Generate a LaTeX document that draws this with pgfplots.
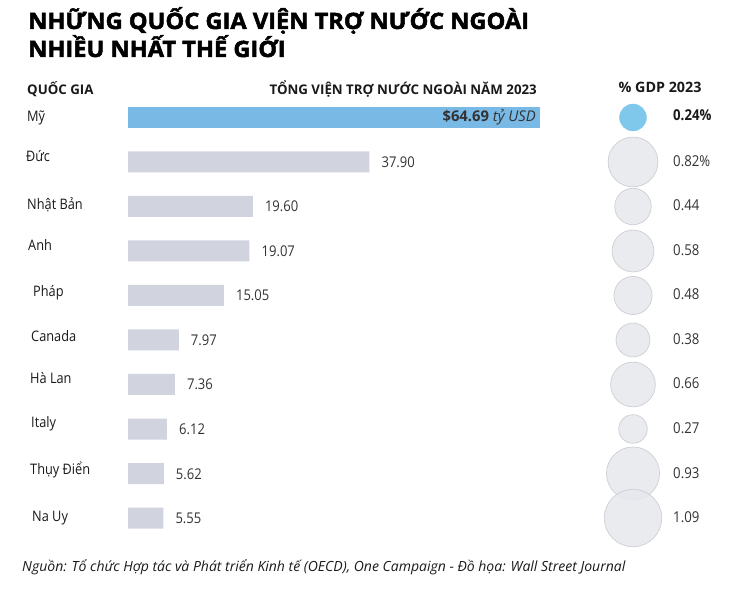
\documentclass[border=0pt]{standalone}
\usepackage{pgfplots}
\pgfplotsset{compat=1.18}
\usepackage{pgfplotstable}
\usepackage{fontspec}
\setmainfont{Open Sans}[FakeStretch=0.88]
\newfontfamily\widefont{Open Sans}
\newfontfamily\titlefont{Open Sans}[FakeStretch=1.05, BoldFeatures={FakeBold=2.2}]
\definecolor{usblue}{HTML}{78B9E5}
\definecolor{usbubble}{HTML}{7FC8EC}
\definecolor{graybar}{HTML}{D1D4DF}
\definecolor{bubfill}{HTML}{E6E8ED}
\definecolor{bubedge}{HTML}{CDCFD5}
\definecolor{txt}{HTML}{1A1A1A}
\definecolor{valtxt}{HTML}{333333}

\pgfplotstableread{
row val lab
1 37.90 37.90
2 19.60 19.60
3 19.07 19.07
4 15.05 15.05
5 7.97 7.97
6 7.36 7.36
7 6.12 6.12
8 5.62 5.62
9 5.55 5.55
}\aidtable
\pgfplotstableread{
row val
0 64.69
}\ustable
\pgfplotstableread{
row gdp lab
1 0.82 0.82\%
2 0.44 0.44
3 0.58 0.58
4 0.48 0.48
5 0.38 0.38
6 0.66 0.66
7 0.27 0.27
8 0.93 0.93
9 1.09 1.09
}\gdptable
\pgfplotstableread{
row gdp lab
0 0.24 0.24\%
}\usgdp

\newcommand{\PX}[2]{(#1pt,{(589-#2)*1pt})}
\begin{document}
\begin{tikzpicture}
\fill[white] (0pt,0pt) rectangle (734pt,589pt);
\useasboundingbox (0pt,0pt) rectangle (734pt,589pt);
% title
\node[anchor=base west, inner sep=0, text=black] at \PX{28}{29} {\titlefont\bfseries\fontsize{22.5}{26}\selectfont NHỮNG QUỐC GIA VIỆN TRỢ NƯỚC NGOÀI};
\node[anchor=base west, inner sep=0, text=black] at \PX{28}{57} {\titlefont\bfseries\fontsize{22.5}{26}\selectfont NHIỀU NHẤT THẾ GIỚI};
% headers
\node[anchor=base west, inner sep=0, text=txt] at \PX{27}{95} {\widefont\bfseries\fontsize{13.3}{15}\selectfont QUỐC GIA};
\node[anchor=base east, inner sep=0, text=txt] at \PX{537}{95} {\widefont\bfseries\fontsize{13.3}{15}\selectfont TỔNG VIỆN TRỢ NƯỚC NGOÀI NĂM 2023};
\node[anchor=base, inner sep=0, text=txt] at \PX{660}{93} {\widefont\bfseries\fontsize{14.3}{16}\selectfont \% GDP 2023};
% country labels
\begin{scope}[every node/.style={anchor=base west, inner sep=0, text=txt, font=\fontsize{14.5}{17}\selectfont}]
\node at \PX{27}{122} {Mỹ};
\node at \PX{26}{162} {Đức};
\node at \PX{27}{210} {Nhật Bản};
\node at \PX{28}{251} {Anh};
\node at \PX{33}{297} {Pháp};
\node at \PX{31}{342} {Canada};
\node at \PX{30}{384} {Hà Lan};
\node at \PX{31}{428} {Italy};
\node at \PX{30}{475} {Thụy Điển};
\node at \PX{32}{522} {Na Uy};
\end{scope}
% bars
\begin{axis}[
  at={(128pt,48.75pt)}, anchor=south west,
  scale only axis, width=412pt, height=445pt,
  xmin=0, xmax=64.69, ymin=-0.5, ymax=9.5, y dir=reverse,
  hide axis, clip=false,
]
\addplot[xbar, bar width=21pt, bar shift=0pt, fill=graybar, draw=none,
  nodes near coords, point meta=explicit symbolic,
  nodes near coords align=horizontal,
  every node near coord/.style={anchor=base west, inner sep=0, xshift=12pt, yshift=-5.5pt, text=valtxt, font=\fontsize{14.8}{16}\selectfont}]
  table[x=val, y=row, meta=lab] {\aidtable};
\addplot[xbar, bar width=21pt, bar shift=0pt, fill=usblue, draw=none]
  table[x=val, y=row] {\ustable};
\node[anchor=base east, inner sep=0, text=valtxt, font=\widefont\fontsize{14.8}{16}\selectfont] at (axis cs:64.69,0) [xshift=-4pt, yshift=-4pt] {\bfseries \$64.69 \mdseries\itshape tỷ USD};
\end{axis}
% bubbles
\begin{axis}[
  at={(583pt,48.75pt)}, anchor=south west,
  scale only axis, width=100pt, height=445pt,
  xmin=-1, xmax=1, ymin=-0.5, ymax=9.5, y dir=reverse,
  hide axis, clip=false,
]
\addplot[scatter, only marks, mark=*, fill opacity=0.85,
  point meta=\thisrow{gdp},
  scatter/use mapped color={draw=bubedge, fill=bubfill},
  line width=0.7pt,
  visualization depends on={27.5*sqrt(\thisrow{gdp}) \as \rad},
  scatter/@pre marker code/.append style={/tikz/mark size=\rad}]
  table[x expr=0, y=row] {\gdptable};
\addplot[scatter, only marks, mark=*,
  point meta=\thisrow{gdp},
  scatter/use mapped color={draw=usbubble, fill=usbubble},
  visualization depends on={27.5*sqrt(\thisrow{gdp}) \as \rad},
  scatter/@pre marker code/.append style={/tikz/mark size=\rad}]
  table[x expr=0, y=row] {\usgdp};
\addplot[draw=none, nodes near coords, point meta=explicit symbolic,
  every node near coord/.style={anchor=base west, inner sep=0, xshift=40pt, yshift=-4.5pt, text=valtxt, font=\fontsize{15}{16}\selectfont}]
  table[x expr=0, y=row, meta=lab] {\gdptable};
\addplot[draw=none, nodes near coords, point meta=explicit symbolic,
  every node near coord/.style={anchor=base west, inner sep=0, xshift=40pt, yshift=-3pt, text=txt, font=\bfseries\fontsize{15}{16}\selectfont}]
  table[x expr=0, y=row, meta=lab] {\usgdp};
\end{axis}
% source
\node[anchor=base west, inner sep=0, text=txt] at \PX{22}{572} {\widefont\itshape\fontsize{14}{16}\selectfont Nguồn: Tổ chức Hợp tác và Phát triển Kinh tế (OECD), One Campaign - Đồ họa: Wall Street Journal};
\end{tikzpicture}
\end{document}
